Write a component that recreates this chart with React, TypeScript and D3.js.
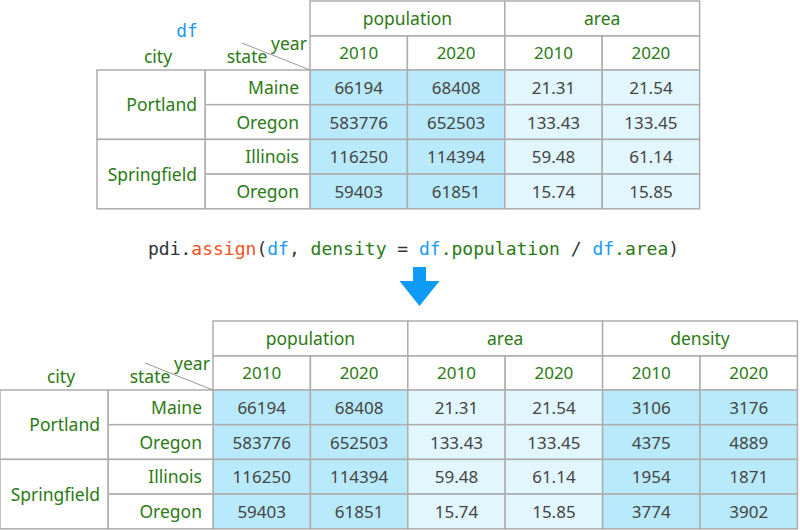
import * as d3 from 'd3';

// index labels
const cities = ['Portland', 'Springfield'];
const states = ['Maine', 'Oregon', 'Illinois', 'Oregon'];
const years = ['2010', '2020'];

// values per column
const population2010 = [66194, 583776, 116250, 59403];
const population2020 = [68408, 652503, 114394, 61851];
const area2010 = [21.31, 133.43, 59.48, 15.74];
const area2020 = [21.54, 133.45, 61.14, 15.85];
const density2010 = [3106, 4375, 1954, 3774];
const density2020 = [3176, 4889, 1871, 3902];

const GREEN = '#2b7a14';
const BLUE = '#1a9af0';
const GRID = '#adadad';
const NUM = '#444';
const FONT = '"Noto Sans", "Open Sans", sans-serif';
const MONO = '"DejaVu Sans Mono", monospace';

const COL_W = 97.4;
const H1 = 35;
const H2 = 34;
const ROW_H = 34.7;
const CITY_W = 108;
const STATE_W = 105;

type Group = { name: string; values: number[][]; fmt: (v: number) => string; fill: string };

const popFmt = d3.format('d');
const areaFmt = d3.format('.2f');

const groupsBefore: Group[] = [
  { name: 'population', values: [population2010, population2020], fmt: popFmt, fill: '#b9eafb' },
  { name: 'area', values: [area2010, area2020], fmt: areaFmt, fill: '#e2f6fd' },
];
const groupsAfter: Group[] = [
  ...groupsBefore,
  { name: 'density', values: [density2010, density2020], fmt: popFmt, fill: '#b9eafb' },
];

function Table({ x0, y0, groups, name }: { x0: number; y0: number; groups: Group[]; name?: string }) {
  const cols = groups.flatMap((g) =>
    years.map((yr, j) => ({ key: `${g.name}|${yr}`, year: yr, group: g, vals: g.values[j] })),
  );
  const right = x0 + cols.length * COL_W;
  const x = d3.scaleBand<string>().domain(cols.map((c) => c.key)).range([x0, right]);
  const gx = d3.scaleBand<string>().domain(groups.map((g) => g.name)).range([x0, right]);
  const dataTop = y0 + H1 + H2;
  const y = d3
    .scaleBand<number>()
    .domain(d3.range(states.length))
    .range([dataTop, dataTop + states.length * ROW_H]);
  const cityX = x0 - STATE_W - CITY_W;
  const stateX = x0 - STATE_W;
  const rowsPerCity = states.length / cities.length;

  return (
    <g>
      {/* group header */}
      {groups.map((g) => (
        <g key={g.name}>
          <rect x={gx(g.name)} y={y0} width={gx.bandwidth()} height={H1} fill="#fff" stroke={GRID} strokeWidth={1.5} />
          <text
            x={gx(g.name)! + gx.bandwidth() / 2}
            y={y0 + H1 / 2}
            dy="0.38em"
            textAnchor="middle"
            fill={GREEN}
            fontFamily={FONT}
            fontSize={17.5}
          >
            {g.name}
          </text>
        </g>
      ))}
      {/* year header */}
      {cols.map((c) => (
        <g key={c.key}>
          <rect x={x(c.key)} y={y0 + H1} width={x.bandwidth()} height={H2} fill="#fff" stroke={GRID} strokeWidth={1.5} />
          <text
            x={x(c.key)! + x.bandwidth() / 2}
            y={y0 + H1 + H2 / 2}
            dy="0.38em"
            textAnchor="middle"
            fill={GREEN}
            fontFamily={FONT}
            fontSize={17}
          >
            {c.year}
          </text>
        </g>
      ))}
      {/* data cells */}
      {cols.map((c) =>
        c.vals.map((v, i) => (
          <g key={`${c.key}-${i}`}>
            <rect x={x(c.key)} y={y(i)} width={x.bandwidth()} height={y.bandwidth()} fill={c.group.fill} stroke={GRID} strokeWidth={1.5} />
            <text
              x={x(c.key)! + x.bandwidth() / 2}
              y={y(i)! + y.bandwidth() / 2}
              dy="0.38em"
              textAnchor="middle"
              fill={NUM}
              fontFamily={FONT}
              fontSize={17}
            >
              {c.group.fmt(v)}
            </text>
          </g>
        )),
      )}
      {/* state index */}
      {states.map((s, i) => (
        <g key={`st-${i}`}>
          <rect x={stateX} y={y(i)} width={STATE_W} height={y.bandwidth()} fill="#fff" stroke={GRID} strokeWidth={1.5} />
          <text
            x={x0 - 11}
            y={y(i)! + y.bandwidth() / 2}
            dy="0.38em"
            textAnchor="end"
            fill={GREEN}
            fontFamily={FONT}
            fontSize={17.5}
          >
            {s}
          </text>
        </g>
      ))}
      {/* city index */}
      {cities.map((c, k) => {
        const top = y(k * rowsPerCity)!;
        const h = y.bandwidth() * rowsPerCity;
        return (
          <g key={`ct-${k}`}>
            <rect x={cityX} y={top} width={CITY_W} height={h} fill="#fff" stroke={GRID} strokeWidth={1.5} />
            <text
              x={stateX - 8}
              y={top + h / 2}
              dy="0.38em"
              textAnchor="end"
              fill={GREEN}
              fontFamily={FONT}
              fontSize={17.5}
            >
              {c}
            </text>
          </g>
        );
      })}
      {/* corner labels */}
      <line x1={x0 - 68} y1={y0 + 42} x2={x0} y2={dataTop} stroke="#999" strokeWidth={1} />
      <text x={cityX + CITY_W / 2 + 7} y={y0 + 62} textAnchor="middle" fill={GREEN} fontFamily={FONT} fontSize={17.5}>
        city
      </text>
      <text x={x0 - 63} y={y0 + 62} textAnchor="middle" fill={GREEN} fontFamily={FONT} fontSize={17.5}>
        state
      </text>
      <text x={x0 - 21} y={y0 + 49} textAnchor="middle" fill={GREEN} fontFamily={FONT} fontSize={17.5}>
        year
      </text>
      {name && (
        <text x={x0 - 123} y={y0 + 36} textAnchor="middle" fill={BLUE} fontFamily={MONO} fontSize={18}>
          {name}
        </text>
      )}
    </g>
  );
}

const code: [string, string][] = [
  ['pdi.', '#333'],
  ['assign', '#f4511e'],
  ['(', '#333'],
  ['df', BLUE],
  [', ', '#333'],
  ['density', GREEN],
  [' = ', '#333'],
  ['df', BLUE],
  ['.population', GREEN],
  [' / ', '#333'],
  ['df', BLUE],
  ['.area', GREEN],
  [')', '#333'],
];

export default function App() {
  const arrow = d3.path();
  arrow.moveTo(413, 267);
  arrow.lineTo(426, 267);
  arrow.lineTo(426, 281);
  arrow.lineTo(439.5, 281);
  arrow.lineTo(419.5, 306);
  arrow.lineTo(399.5, 281);
  arrow.lineTo(413, 281);
  arrow.closePath();

  return (
    <div style={{ position: 'absolute', left: 0, top: 0 }}>
      <svg width={800} height={530} style={{ display: 'block', background: '#fff' }}>
        <Table x0={310} y0={1} groups={groupsBefore} name="df" />
        <text x={148} y={255} fontFamily={MONO} fontSize={18} xmlSpace="preserve" style={{ whiteSpace: 'pre' }}>
          {code.map(([t, c], i) => (
            <tspan key={i} fill={c}>
              {t}
            </tspan>
          ))}
        </text>
        <path d={arrow.toString()} fill="#0d9bf7" />
        <Table x0={213} y0={321} groups={groupsAfter} />
      </svg>
    </div>
  );
}
